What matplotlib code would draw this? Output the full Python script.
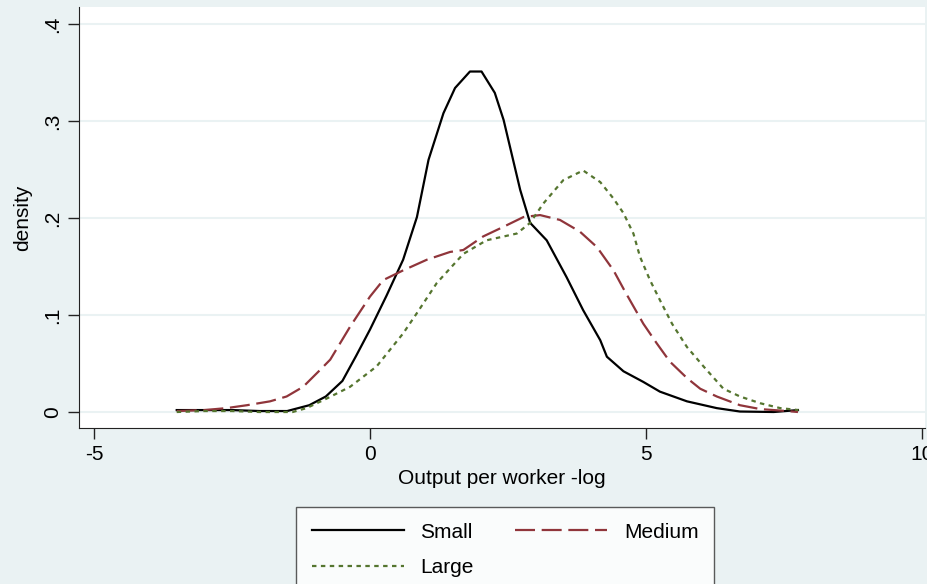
import matplotlib
matplotlib.use("Agg")
import matplotlib.pyplot as plt

plt.rcParams['font.family'] = ['Liberation Sans', 'DejaVu Sans']
plt.rcParams['axes.unicode_minus'] = False

# kernel density curves
x_small = [-3.5, -3.0, -2.5, -2.0, -1.5, -1.1, -0.8, -0.5, -0.25, 0.0, 0.3, 0.6, 0.85,
           1.06, 1.33, 1.54, 1.81, 2.02, 2.26, 2.42, 2.72, 2.9, 3.2, 3.56, 3.86, 4.17,
           4.29, 4.59, 4.95, 5.25, 5.74, 6.28, 6.7, 7.31, 7.75]
y_small = [.002, .002, .002, .001, .001, .007, .016, .032, .058, .085, .12, .157, .201,
           .26, .308, .334, .351, .351, .329, .301, .229, .195, .177, .139, .105, .074,
           .057, .042, .031, .021, .011, .004, .0005, 0, .002]

x_medium = [-3.5, -3.0, -2.6, -2.23, -1.81, -1.51, -1.21, -0.91, -0.72, -0.36, 0.0, 0.24,
            0.6, 1.03, 1.45, 1.69, 2.05, 2.42, 2.78, 3.08, 3.44, 3.8, 4.11, 4.41, 4.62,
            4.77, 4.95, 5.19, 5.43, 5.74, 5.98, 6.28, 6.7, 7.07, 7.55, 7.75]
y_medium = [.001, .002, .004, .007, .011, .016, .026, .043, .054, .088, .119, .136,
            .146, .157, .165, .167, .181, .191, .201, .203, .198, .186, .170, .146, .124,
            .109, .091, .071, .052, .035, .024, .016, .007, .003, .001, 0]

x_large = [-3.5, -3.0, -2.5, -2.0, -1.4, -1.15, -0.78, -0.36, 0.12, 0.6, 0.85, 1.21,
           1.69, 2.11, 2.66, 2.9, 3.14, 3.5, 3.86, 4.17, 4.41, 4.59, 4.77, 4.89, 5.07,
           5.28, 5.47, 5.74, 6.04, 6.4, 6.7, 7.07, 7.43, 7.76]
y_large = [0, .001, .001, 0, 0, .004, .014, .026, .047, .081, .102, .133,
           .163, .177, .184, .195, .215, .239, .249, .237, .220, .205, .184, .160, .136,
           .112, .091, .067, .047, .024, .016, .009, .004, .002]

x_ticks = [-5, 0, 5, 10]
y_ticks = [0, .1, .2, .3, .4]
y_ticklabels = ['0', '.1', '.2', '.3', '.4']

bg = '#EAF2F3'
fig = plt.figure(figsize=(9.27, 5.84), dpi=100, facecolor=bg)
ax = fig.add_axes([0.0852, 0.2671, 0.9126, 0.7209])
ax.set_facecolor('white')

l_small, = ax.plot(x_small, y_small, color='black', lw=1.6, label='Small')
l_medium, = ax.plot(x_medium, y_medium, color='#90353B', lw=1.6, dashes=(9, 3), label='Medium')
l_large, = ax.plot(x_large, y_large, color='#55752F', lw=1.6, dashes=(2, 2), label='Large')

ax.set_xlim(-5.27, 10.05)
ax.set_ylim(-0.0165, 0.4175)
ax.set_xticks(x_ticks)
ax.set_yticks(y_ticks)
ax.set_yticklabels(y_ticklabels, rotation=90, va='center')
ax.tick_params(labelsize=15, length=8, width=1, color='#222222', pad=4)
ax.grid(axis='y', color=bg, lw=1.5)
ax.set_axisbelow(True)
for s in ['top', 'right']:
    ax.spines[s].set_visible(False)
for s in ['left', 'bottom']:
    ax.spines[s].set_color('#222222')

ax.set_xlabel('Output per worker -log', fontsize=15, labelpad=4)
ax.set_ylabel('density', fontsize=15, labelpad=8)

# row-wise order: Small, Medium / Large
leg = fig.legend([l_small, l_large, l_medium], ['Small', 'Large', 'Medium'],
                 loc='upper center', bbox_to_anchor=(0.545, 0.132), ncol=2,
                 fontsize=15, handlelength=4.4, handletextpad=0.8, frameon=True,
                 fancybox=False, edgecolor='#333333', columnspacing=2.0,
                 borderpad=0.75, borderaxespad=0, labelspacing=0.8)
leg.get_frame().set_linewidth(1)

fig.savefig('out.png', dpi=100, facecolor=bg)
